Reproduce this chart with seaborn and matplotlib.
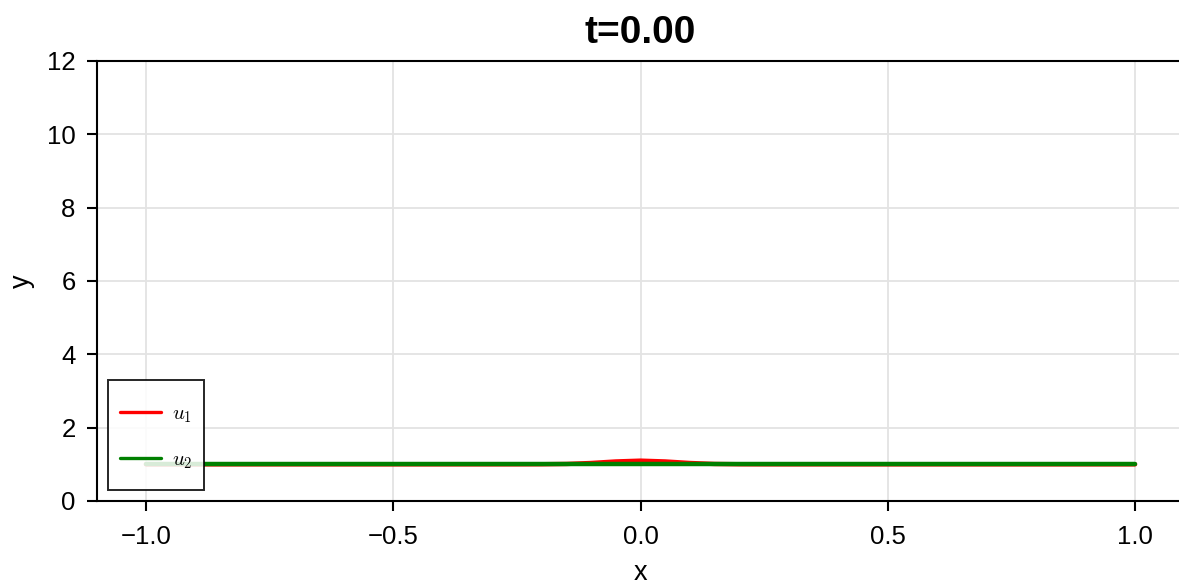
import matplotlib
matplotlib.use("Agg")
import matplotlib.pyplot as plt
import seaborn as sns
import pandas as pd

# ---- data ----
x_u1 = [-1.0, -0.3, -0.25, -0.2, -0.15, -0.1, -0.05, 0.0, 0.05, 0.1, 0.15, 0.2, 0.25, 0.3, 1.0]
y_u1 = [1.0, 1.0, 1.0005, 1.002, 1.01, 1.036, 1.078, 1.1, 1.078, 1.036, 1.01, 1.002, 1.0005, 1.0, 1.0]
x_u2 = [-1.0, -0.5, 0.0, 0.5, 1.0]
y_u2 = [1.0, 1.0, 1.0, 1.0, 1.0]
series_labels = ["$u_1$", "$u_2$"]
title_text = "t=0.00"
x_ticks = [-1.0, -0.5, 0.0, 0.5, 1.0]
y_ticks = [0, 2, 4, 6, 8, 10, 12]

sns.set_theme(style="white")
plt.rcParams["font.family"] = ["Liberation Sans", "DejaVu Sans"]
plt.rcParams["mathtext.fontset"] = "cm"
plt.rcParams["text.color"] = "black"
plt.rcParams["axes.labelcolor"] = "black"
plt.rcParams["xtick.color"] = "black"
plt.rcParams["ytick.color"] = "black"

W, H = 1179, 588
fig = plt.figure(figsize=(W / 100, H / 100), dpi=100)
left_px, right_px, top_px, bottom_px = 96.5, 1184.5, 61, 501
ax = fig.add_axes([left_px / W, 1 - bottom_px / H, (right_px - left_px) / W, (bottom_px - top_px) / H])

df1 = pd.DataFrame({"x": x_u1, "y": y_u1})
df2 = pd.DataFrame({"x": x_u2, "y": y_u2})
sns.lineplot(data=df1, x="x", y="y", ax=ax, color="#ff0000", lw=3.2, label=series_labels[0], sort=False)
sns.lineplot(data=df2, x="x", y="y", ax=ax, color="#008000", lw=3.2, label=series_labels[1], sort=False)

ax.set_xlim(-1.1, 1.1)
ax.set_ylim(0, 12)
ax.set_xticks(x_ticks)
ax.set_yticks(y_ticks)
ax.set_xticklabels([f"{v:.1f}".replace("-", "\u2212") for v in x_ticks])
ax.set_yticklabels([str(v) for v in y_ticks])
ax.grid(True, color="#e3e3e3", lw=1.3)
ax.set_axisbelow(True)

for s in ["left", "bottom", "top", "right"]:
    ax.spines[s].set_visible(True)
    ax.spines[s].set_color("black")
    ax.spines[s].set_linewidth(1.5)

ax.tick_params(axis="both", which="major", direction="out", length=7.5, width=1.5,
               color="black", labelsize=18.5, left=True, bottom=True, labelcolor="black")
ax.tick_params(axis="x", pad=10)
ax.tick_params(axis="y", pad=7.5)
ax.set_xlabel("x", fontsize=19.5, labelpad=7.5)
ax.set_ylabel("y", fontsize=19.5, labelpad=8.5)
ax.set_title(title_text, fontsize=28, fontweight="bold", pad=12.7, color="black")

fs = 17
hh = 2.185
leg = ax.legend(loc="lower left", bbox_to_anchor=(0.0106, 0.025), borderaxespad=0,
                fontsize=fs, handlelength=1.72, handleheight=hh, handletextpad=0.45,
                labelspacing=0.28, borderpad=0.52, frameon=True, fancybox=False,
                framealpha=0.85, edgecolor="black")
leg.get_frame().set_linewidth(1.4)
# centre the handle lines vertically in their rows
desc = 0.35 * fs * (hh - 0.7)
for line in leg.get_lines():
    line.set_linewidth(2.4)
    line.set_ydata([y - desc / 2 for y in line.get_ydata()])
for t in leg.get_texts():
    t.set_fontsize(15)

fig.savefig("out.png", dpi=100)
